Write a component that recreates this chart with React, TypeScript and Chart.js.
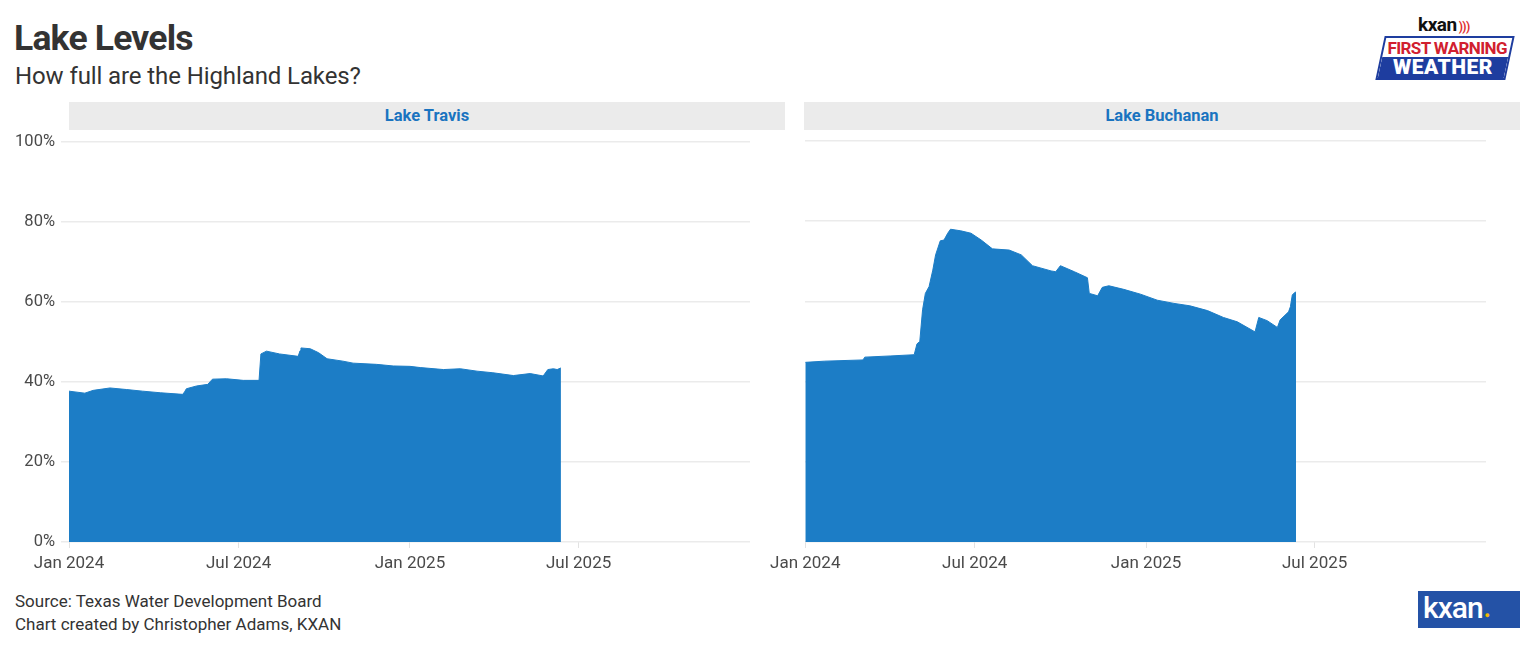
import React, { useEffect, useRef } from "react";
import { Chart, registerables } from "chart.js";

Chart.register(...registerables);

// Days since 1 Jan 2024
const TRAVIS_DAYS = [0, 17, 26, 44, 62, 79, 98, 122, 124, 126, 137, 149, 152, 154, 169, 187, 204, 206, 212, 226, 246, 248, 249, 259, 268, 277, 294, 305, 330, 348, 366, 377, 402, 420, 438, 455, 477, 495, 509, 514, 520, 524, 528];
const TRAVIS_PCT = [37.7, 37.2, 37.9, 38.5, 38.1, 37.7, 37.3, 36.9, 37.5, 38.3, 39.0, 39.4, 40.2, 40.7, 40.8, 40.4, 40.4, 47.0, 47.7, 47.0, 46.4, 47.8, 48.5, 48.3, 47.3, 45.8, 45.2, 44.7, 44.4, 44.0, 43.9, 43.6, 43.1, 43.3, 42.7, 42.3, 41.6, 42.1, 41.5, 43.1, 43.3, 43.1, 43.5];

const BUCHANAN_DAYS = [0, 21, 62, 64, 92, 117, 120, 123, 126, 129, 133, 137, 140, 145, 149, 153, 156, 167, 178, 189, 201, 219, 232, 244, 264, 269, 274, 289, 303, 305, 314, 319, 326, 342, 360, 378, 396, 413, 432, 449, 464, 483, 487, 496, 507, 510, 519, 521, 523, 526, 527];
const BUCHANAN_PCT = [44.8, 45.1, 45.4, 46.1, 46.4, 46.7, 49.4, 50.0, 57.9, 62.0, 63.7, 67.8, 71.6, 75.1, 75.3, 77.0, 78.0, 77.6, 77.0, 75.3, 73.1, 72.8, 71.6, 68.9, 67.6, 67.4, 68.9, 67.4, 65.9, 62.0, 61.4, 63.5, 63.9, 63.0, 61.8, 60.3, 59.5, 58.9, 57.7, 56.0, 54.9, 52.4, 56.0, 55.2, 53.5, 55.4, 57.4, 58.7, 61.6, 62.3, 62.3];

const X_TICKS = [0, 182, 366, 547];
const X_TICK_LABELS = ["Jan 2024", "Jul 2024", "Jan 2025", "Jul 2025"];
const X_MAX = 731;
const Y_TICKS = [0, 20, 40, 60, 80, 100];

const BLUE = "#1c7dc6";
const FONT = "Roboto, 'Noto Sans', sans-serif";

function makeChart(canvas: HTMLCanvasElement, days: number[], pct: number[], showY: boolean, yWidth: number, padRight: number) {
  return new Chart(canvas, {
    type: "line",
    data: {
      datasets: [
        {
          data: days.map((d, i) => ({ x: d, y: pct[i] })),
          fill: "origin",
          backgroundColor: BLUE,
          borderColor: BLUE,
          borderWidth: 1,
          pointRadius: 0,
          tension: 0,
        },
      ],
    },
    options: {
      animation: false,
      responsive: false,
      maintainAspectRatio: false,
      layout: { padding: { top: 10, right: padRight, left: 0, bottom: 0 } },
      plugins: { legend: { display: false }, tooltip: { enabled: false } },
      scales: {
        x: {
          type: "linear",
          min: 0,
          max: X_MAX,
          afterBuildTicks: (s: any) => {
            s.ticks = X_TICKS.map((v) => ({ value: v }));
          },
          afterFit: (s: any) => {
            s.height = 40;
          },
          ticks: {
            autoSkip: false,
            maxRotation: 0,
            padding: 6,
            color: "#4a4a4a",
            font: { family: FONT, size: 17 },
            callback: (v: any) => X_TICK_LABELS[X_TICKS.indexOf(Number(v))] ?? "",
          },
          grid: { drawOnChartArea: false, tickLength: 6, color: "#e2e2e2" },
          border: { display: false },
        },
        y: {
          min: 0,
          max: 100,
          afterBuildTicks: (s: any) => {
            s.ticks = Y_TICKS.map((v) => ({ value: v }));
          },
          afterFit: (s: any) => {
            s.width = yWidth;
          },
          ticks: {
            display: showY,
            padding: 6,
            color: "#4a4a4a",
            font: { family: FONT, size: 16.5 },
            callback: (v: any) => v + "%",
          },
          grid: { color: "#ebebeb", lineWidth: 1.5, tickLength: showY ? 8 : 0, drawTicks: showY },
          border: { display: false },
        },
      },
    },
  } as any);
}

function Panel({ days, pct, showY, left, top, width, height, yWidth, padRight }: any) {
  const ref = useRef<HTMLCanvasElement>(null);
  useEffect(() => {
    const c = makeChart(ref.current!, days, pct, showY, yWidth, padRight);
    return () => c.destroy();
  }, []);
  return (
    <canvas
      ref={ref}
      width={width}
      height={height}
      style={{ position: "absolute", left, top, width, height }}
    />
  );
}

function Strip({ left, label }: { left: number; label: string }) {
  return (
    <div
      style={{
        position: "absolute",
        left,
        top: 102,
        width: 716,
        height: 28,
        background: "#ebebeb",
        color: "#1a74c0",
        fontFamily: FONT,
        fontWeight: 700,
        fontSize: 16.5,
        lineHeight: "28px",
        textAlign: "center",
      }}
    >
      {label}
    </div>
  );
}

export default function App() {
  return (
    <div
      style={{
        position: "absolute",
        left: 0,
        top: 0,
        width: 1534,
        height: 650,
        background: "#fff",
        overflow: "hidden",
        fontFamily: FONT,
      }}
    >
      <div style={{ position: "absolute", left: 14, top: 16, fontSize: 35.5, fontWeight: 700, color: "#333", lineHeight: "44px", letterSpacing: -0.8 }}>
        Lake Levels
      </div>
      <div style={{ position: "absolute", left: 15, top: 61, fontSize: 24, color: "#333", lineHeight: "30px", letterSpacing: -0.1 }}>
        How full are the Highland Lakes?
      </div>

      <Strip left={69} label="Lake Travis" />
      <Strip left={804} label="Lake Buchanan" />

      <Panel days={TRAVIS_DAYS} pct={TRAVIS_PCT} showY={true} left={0} top={126} width={790} height={456} yWidth={69} padRight={40} />
      <Panel days={BUCHANAN_DAYS} pct={BUCHANAN_PCT} showY={false} left={764} top={131} width={770} height={451} yWidth={40} padRight={48} />

      <div style={{ position: "absolute", left: 15, top: 590, fontSize: 17, color: "#333", lineHeight: "23px" }}>
        Source: Texas Water Development Board
        <br />
        Chart created by Christopher Adams, KXAN
      </div>

      {/* top-right logo */}
      <div style={{ position: "absolute", left: 1418, top: 15, fontSize: 19, fontWeight: 700, color: "#111", letterSpacing: -0.5, lineHeight: "20px" }}>
        kxan<span style={{ color: "#e03030", fontSize: 12, marginLeft: 2 }}>)))</span>
      </div>
      <div
        style={{
          position: "absolute",
          left: 1380,
          top: 36,
          width: 126,
          height: 40,
          transform: "skewX(-12deg)",
          border: "2px solid #1e3d9f",
          background: "#fff",
          overflow: "hidden",
        }}
      >
        <div style={{ height: 19, lineHeight: "20px", textAlign: "center", color: "#d1202f", fontWeight: 700, fontSize: 17, letterSpacing: -0.6, transform: "skewX(12deg)" }}>
          FIRST WARNING
        </div>
        <div style={{ height: 21, lineHeight: "21px", textAlign: "center", color: "#fff", background: "#1e3d9f", fontWeight: 900, fontSize: 21, letterSpacing: 0.5 }}>
          <span style={{ display: "inline-block", transform: "skewX(12deg)" }}>WEATHER</span>
        </div>
      </div>

      {/* bottom-right logo */}
      <div
        style={{
          position: "absolute",
          left: 1418,
          top: 591,
          width: 102,
          height: 37,
          background: "#2452a6",
          color: "#fff",
          fontSize: 30,
          fontWeight: 500,
          lineHeight: "34px",
          paddingLeft: 5,
          boxSizing: "border-box",
          letterSpacing: -1,
        }}
      >
        kxan
        <span style={{ fontSize: 9, marginLeft: 2, color: "#f5b800" }}>●</span>
      </div>
    </div>
  );
}
